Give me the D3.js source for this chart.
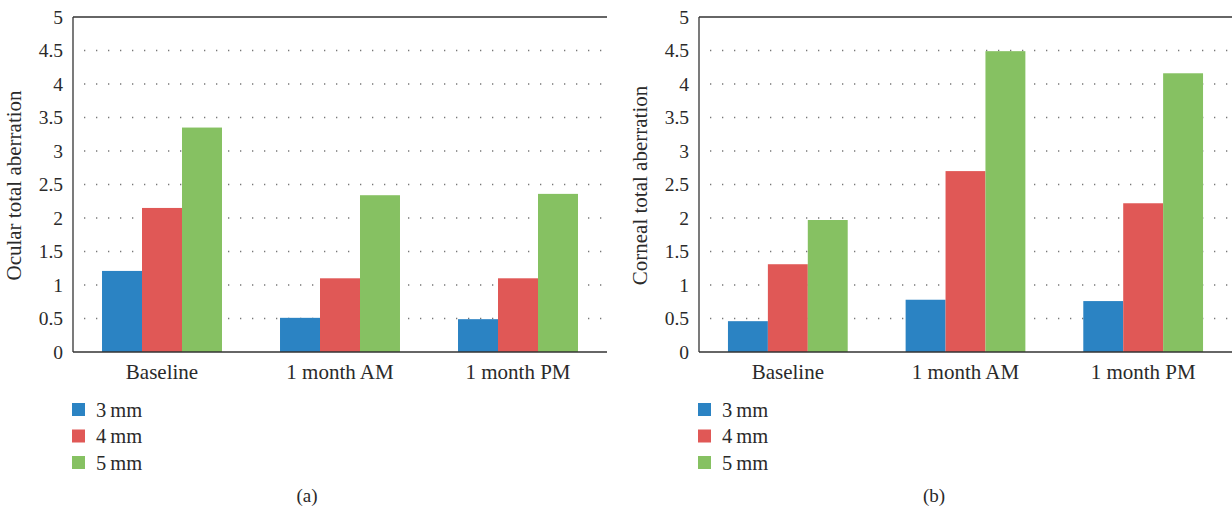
<!DOCTYPE html>
<html>
<head>
<meta charset="utf-8">
<script src="https://cdn.jsdelivr.net/npm/d3@7"></script>
<style>
  body { margin: 0; background: #fff; }
  text { font-family: "Liberation Serif", "DejaVu Serif", serif; fill: #2a2a2a; }
</style>
</head>
<body>
<div id="chart"></div>
<script>
const categories = ["Baseline", "1 month AM", "1 month PM"];
const series = ["3 mm", "4 mm", "5 mm"];
const colors = ["#2b83c3", "#e05856", "#86c162"];
const yTicks = [0, 0.5, 1, 1.5, 2, 2.5, 3, 3.5, 4, 4.5, 5];

// panel (a) ocular, panel (b) corneal; one array per pupil size
const ocular3 = [1.21, 0.51, 0.49];
const ocular4 = [2.15, 1.10, 1.10];
const ocular5 = [3.35, 2.34, 2.36];
const corneal3 = [0.46, 0.78, 0.76];
const corneal4 = [1.31, 2.70, 2.22];
const corneal5 = [1.97, 4.49, 4.16];

const width = 1232;
const height = 512;

const svg = d3
  .select("#chart")
  .append("svg")
  .attr("width", width)
  .attr("height", height);

const panels = [
  { x0: 73, x1: 607, title: "Ocular total aberration", tag: "(a)", tagX: 307,
    values: [ocular3, ocular4, ocular5] },
  { x0: 699, x1: 1232, title: "Corneal total aberration", tag: "(b)", tagX: 934,
    values: [corneal3, corneal4, corneal5] }
];

const plotTop = 17;
const plotBottom = 352;

panels.forEach((p) => {
  const g = svg.append("g");

  const x = d3.scaleBand().domain(categories).range([p.x0, p.x1]).paddingInner(0.326).paddingOuter(0.163);
  const xs = d3.scaleBand().domain(series).range([0, x.bandwidth()]);
  const y = d3.scaleLinear().domain([0, 5]).range([plotBottom, plotTop]);

  // dotted grid
  g.append("g")
    .selectAll("line")
    .data(yTicks.filter((t) => t > 0 && t < 5))
    .join("line")
    .attr("x1", p.x0 + 11)
    .attr("x2", p.x1)
    .attr("y1", (d) => y(d))
    .attr("y2", (d) => y(d))
    .attr("stroke", "#777")
    .attr("stroke-width", 1.3)
    .attr("stroke-dasharray", "1.3 10.7");

  // bars
  series.forEach((s, si) => {
    g.append("g")
      .selectAll("rect")
      .data(p.values[si])
      .join("rect")
      .attr("x", (d, i) => x(categories[i]) + xs(s))
      .attr("y", (d) => y(d))
      .attr("width", xs.bandwidth())
      .attr("height", (d) => y(0) - y(d))
      .attr("fill", colors[si]);
  });

  // frame: top, left, bottom
  const frame = g.append("g").attr("stroke", "#333").attr("stroke-width", 1.3);
  frame.append("line").attr("x1", p.x0).attr("x2", p.x1).attr("y1", plotTop).attr("y2", plotTop);
  frame.append("line").attr("x1", p.x0).attr("x2", p.x0).attr("y1", plotTop).attr("y2", plotBottom);
  frame.append("line").attr("x1", p.x0).attr("x2", p.x1).attr("y1", plotBottom).attr("y2", plotBottom);

  // y tick labels
  g.append("g")
    .selectAll("text")
    .data(yTicks)
    .join("text")
    .attr("x", p.x0 - 10)
    .attr("y", (d) => y(d))
    .attr("dy", "0.35em")
    .attr("text-anchor", "end")
    .attr("font-size", 19.5)
    .text((d) => d);

  // category labels
  g.append("g")
    .selectAll("text")
    .data(categories)
    .join("text")
    .attr("x", (d) => x(d) + x.bandwidth() / 2)
    .attr("y", 379)
    .attr("text-anchor", "middle")
    .attr("font-size", 21)
    .text((d) => d);

  // y title
  g.append("text")
    .attr("transform", `translate(${p.x0 - 52},${(plotTop + plotBottom) / 2 + 1}) rotate(-90)`)
    .attr("text-anchor", "middle")
    .attr("font-size", 21)
    .text(p.title);

  // legend
  const legend = g
    .append("g")
    .selectAll("g")
    .data(series)
    .join("g")
    .attr("transform", (d, i) => `translate(${p.x0 - 1},${403 + i * 26.5})`);
  legend.append("rect").attr("width", 13).attr("height", 13).attr("fill", (d, i) => colors[i]);
  legend
    .append("text")
    .attr("x", 24)
    .attr("y", 6.5)
    .attr("dy", "0.35em")
    .attr("font-size", 20.5)
    .text((d) => d.replace(" ", "\u2009"));

  g.append("text")
    .attr("x", p.tagX)
    .attr("y", 502)
    .attr("text-anchor", "middle")
    .attr("font-size", 19)
    .text(p.tag);
});
</script>
</body>
</html>
